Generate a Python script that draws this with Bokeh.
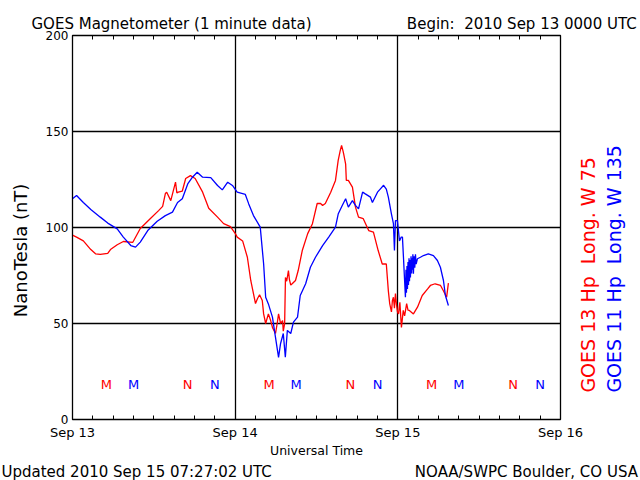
import math
from bokeh.plotting import figure
from bokeh.models import Range1d, FixedTicker, LinearAxis, Title
from bokeh.core.properties import value
from bokeh.embed import file_html
from bokeh.resources import INLINE

# ---------------- data (hours since 2010 Sep 13 00:00 UTC, nT) ----------------
g13_hours = [0.0, 0.6, 1.6, 2.7, 3.4, 4.1, 5.2, 5.6, 6.6, 7.5, 8.9, 10.0, 11.5, 12.7,
             13.3, 13.7, 13.9, 14.5, 15.2, 15.4, 15.6, 16.2, 16.7, 17.4, 18.1, 19.2,
             20.1, 21.4, 22.3, 23.3, 24.0, 24.3, 25.1, 25.8, 26.3, 26.7, 27.0, 27.3,
             27.6, 28.0, 28.2, 28.5, 28.9, 29.2, 29.5, 29.95, 30.2, 30.4, 30.7, 31.0,
             31.1, 31.3, 31.42, 31.6, 31.86, 32.0, 32.2, 32.45, 32.9, 33.3, 33.9, 34.7,
             35.4, 36.1, 36.6, 36.9, 37.3, 38.1, 38.8, 39.2, 39.5, 39.7, 39.9, 40.0,
             40.3, 40.4, 40.7, 41.3, 41.75, 42.2, 42.9, 43.7, 44.4, 45.1, 45.7, 46.3,
             46.6, 46.8, 47.06, 47.2, 47.35, 47.5, 47.65, 47.8, 47.95, 48.1, 48.3,
             48.53, 48.8, 49.0, 49.3, 49.5, 49.7, 50.3, 50.9, 51.6, 52.4, 52.8, 53.5,
             54.3, 54.7, 55.2, 55.46]
g13_nt = [96, 95, 93, 88.5, 86.3, 86, 86.5, 88.5, 91, 92.7, 92.3, 99.5, 104.7, 108.8,
          111, 117.7, 118.4, 114, 123.6, 118, 118.4, 119, 125.5, 127, 125.5, 118.4,
          110, 105.4, 102, 100.5, 97, 95, 93, 84.5, 72.4, 65.6, 60.4, 63,
          65, 62, 55, 50, 55, 52, 48, 44.8, 50, 55, 50, 51.5,
          46, 50, 74, 72, 77.6, 73, 70, 70.8, 72.4, 77.6, 88, 96.8,
          102, 112.5, 112.5, 111.5, 112.5, 118.4, 124.5, 135, 140, 142.7, 140, 138.5,
          133, 124.5, 124.5, 121, 110.6, 105.4, 104.6, 98.4, 97.6, 88, 81, 81,
          67, 60.4, 56, 62, 63.7, 58, 65.6, 60, 56, 55, 61,
          48, 56.8, 54, 60.4, 57, 56.8, 55, 58.5, 64.6, 68, 69.8, 70.7,
          69.8, 67.2, 63.7, 71]

g11_hours = [0.0, 0.6, 1.6, 2.7, 4.1, 5.2, 6.6, 7.5, 8.6, 9.3, 10.0, 11.1, 12.5, 13.7,
             14.75, 15.5, 16.2, 17.0, 17.7, 18.4, 19.2, 20.4, 21.4, 22.1, 22.9, 23.6,
             24.3, 25.5, 26.0, 26.7, 27.7, 28.2, 28.5, 28.9, 29.5, 29.95, 30.4, 30.7,
             31.1, 31.4, 31.7, 32.2, 32.6, 33.2, 33.6, 34.4, 35.1, 35.85, 36.9, 37.8,
             38.8, 39.2, 39.8, 40.3, 40.7, 41.3, 41.75, 42.2, 42.8, 43.2, 43.96, 44.25,
             45.0, 45.4, 45.9, 46.3, 46.6, 47.06, 47.35, 47.5, 47.65, 47.94, 48.1,
             48.24, 48.5, 48.68, 48.83, 49.12, 49.2, 49.27, 49.35, 49.42, 49.5, 49.57,
             49.65, 49.72, 49.8, 49.86, 49.95, 50.03, 50.1, 50.15, 50.22, 50.3, 50.4,
             50.5, 50.6, 50.7, 50.89, 51.33, 51.78, 52.5, 53.25, 53.84, 54.28, 54.73,
             55.02, 55.46]
g11_nt = [115, 116.7, 113, 109.4, 105.4, 102.3, 99.3, 95, 90.6, 89.8, 92.4, 98.4, 103.3, 106.2,
          108, 113, 115, 122.7, 126.2, 128.8, 126.2, 126, 121.9, 119.6, 123.6, 121.9,
          118.4, 117.2, 112.3, 106.2, 100.2, 81, 63.7, 60.2, 53.3, 42.8, 32.4, 39.6,
          44.8, 32.4, 46.4, 44.8, 50.7, 53.3, 64.6, 70.7, 79.3, 84.5, 90.6, 95,
          100.2, 107, 111.5, 115, 110.6, 114, 111.5, 109.7, 118.4, 117.5, 115.8, 113,
          118.4, 120, 122, 120, 115.8, 107, 102, 88, 103.6, 103.6, 98,
          93, 95, 95, 84.5, 63.7, 78, 66, 80, 68, 82, 70,
          84, 72, 83, 74, 85, 76, 84, 78, 86, 75.9, 85,
          79, 86, 81, 83.7, 84.5, 85.4, 86.3, 85.4, 82.8, 79.3, 72.4,
          64.6, 59.4]

# local midnight (M) and local noon (N) markers, UT hours
g13_m = [5, 29, 53]
g11_m = [9, 33, 57]
g13_n = [17, 41, 65]
g11_n = [21, 45, 69]
marker_level = 18

day_ticks = [0, 24, 48, 72]
day_labels = ["Sep 13", "Sep 14", "Sep 15", "Sep 16"]
minor_hours = [h for h in range(3, 72, 3) if h % 24 != 0]
nt_ticks = [0, 50, 100, 150, 200]

RED = "#ff0000"
BLUE = "#0000ff"
FONT = "DejaVu Sans"
NB = "\u00a0"

# ---------------- layout ----------------
W, H = 640, 480
L, R, T, B = 72, 80, 35, 61
X0, X1, Y0, Y1 = 0, 72, 0, 200
SIDE_LABEL_START = 14  # y where the rotated satellite labels begin

p = figure(width=W, height=H, output_backend="svg", toolbar_location=None,
           x_range=Range1d(X0, X1), y_range=Range1d(Y0, Y1),
           min_border_left=L, min_border_right=R, min_border_top=T, min_border_bottom=B,
           x_axis_location=None, y_axis_location=None)
p.background_fill_color = "white"
p.border_fill_color = "white"
p.outline_line_color = "black"
p.outline_line_width = 1.3

# bottom axis
bx = LinearAxis(ticker=FixedTicker(ticks=day_ticks, minor_ticks=minor_hours))
bx.major_label_overrides = {t: s for t, s in zip(day_ticks, day_labels)}
bx.major_tick_in = 0
bx.major_tick_out = 0
bx.minor_tick_in = 4
bx.minor_tick_out = 0
bx.minor_tick_line_color = "black"
bx.axis_line_color = "black"
bx.major_label_standoff = 5
bx.major_label_text_font = FONT
bx.major_label_text_font_size = "13px"
bx.major_label_text_color = "black"
bx.axis_label = "Universal Time"
bx.axis_label_text_font = FONT
bx.axis_label_text_font_size = "12.5px"
bx.axis_label_text_font_style = "normal"
bx.axis_label_text_color = "black"
bx.axis_label_standoff = 0
p.add_layout(bx, "below")

# top axis (ticks only)
tx = LinearAxis(ticker=FixedTicker(ticks=day_ticks, minor_ticks=minor_hours))
tx.major_label_text_font_size = "1px"
tx.major_label_text_color = None
tx.major_label_standoff = 0
tx.major_tick_in = 0
tx.major_tick_out = 0
tx.minor_tick_in = 4
tx.minor_tick_out = 0
tx.minor_tick_line_color = "black"
tx.axis_line_color = "black"
p.add_layout(tx, "above")

# left axis
ly = LinearAxis(ticker=FixedTicker(ticks=nt_ticks))
ly.major_tick_in = 0
ly.major_tick_out = 0
ly.minor_tick_line_color = None
ly.major_label_standoff = 4
ly.major_label_text_font = FONT
ly.major_label_text_font_size = "12px"
ly.major_label_text_color = "black"
ly.axis_line_color = "black"
ly.axis_label = "NanoTesla (nT)" + NB * 8
ly.axis_label_text_font = FONT
ly.axis_label_text_font_size = "18px"
ly.axis_label_text_font_style = "normal"
ly.axis_label_text_color = "black"
ly.axis_label_standoff = 12
p.add_layout(ly, "left")

# right-side satellite labels, drawn as rotated tick labels of label-only axes
for text, col, stand in (("GOES 13 Hp" + NB + NB + "Long. W 75", RED, 28),
                         ("GOES 11 Hp" + NB + NB + "Long. W 135", BLUE, 1)):
    ra = LinearAxis(ticker=FixedTicker(ticks=[SIDE_LABEL_START]))
    ra.major_label_overrides = {SIDE_LABEL_START: text}
    ra.major_label_orientation = math.pi / 2
    ra.axis_line_color = None
    ra.major_tick_line_color = None
    ra.minor_tick_line_color = None
    ra.major_tick_in = 0
    ra.major_tick_out = 0
    ra.major_label_standoff = stand
    ra.major_label_text_font = FONT
    ra.major_label_text_font_size = "19px"
    ra.major_label_text_color = col
    p.add_layout(ra, "right")

p.xgrid.ticker = FixedTicker(ticks=day_ticks[1:-1])
p.ygrid.ticker = FixedTicker(ticks=nt_ticks[1:-1])
for g in (p.xgrid, p.ygrid):
    g.grid_line_color = "black"
    g.grid_line_width = 1.3

# data lines
p.line(g13_hours, g13_nt, line_color=RED, line_width=1.3)
p.line(g11_hours, g11_nt, line_color=BLUE, line_width=1.3)

# M / N markers
for xs, txt, col in ((g13_m, "M", RED), (g11_m, "M", BLUE), (g13_n, "N", RED), (g11_n, "N", BLUE)):
    p.text(x=xs, y=[marker_level] * len(xs), text=[txt] * len(xs), text_color=col,
           text_font=value(FONT), text_font_size="13px",
           text_align="center", text_baseline="middle")

# header / footer lines
top_text = "GOES Magnetometer (1 minute data)" + NB * 20 + "Begin:" + NB + NB + "2010 Sep 13 0000 UTC"
bot_text = "Updated 2010 Sep 15 07:27:02 UTC" + NB * 30 + "NOAA/SWPC Boulder, CO USA"
p.add_layout(Title(text=top_text, align="left", offset=-41, standoff=6,
                   text_font=FONT, text_font_size="15px", text_font_style="normal",
                   text_color="black"), "above")
p.add_layout(Title(text=bot_text, align="left", offset=-71, standoff=0,
                   text_font=FONT, text_font_size="15px", text_font_style="normal",
                   text_color="black"), "below")

open("out.html", "w").write(file_html(p, INLINE))
